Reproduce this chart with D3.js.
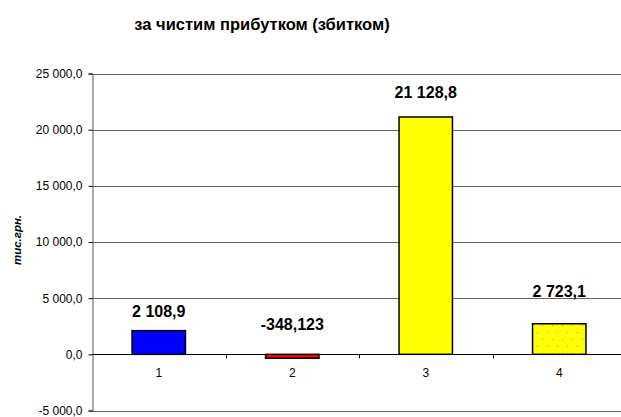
<!DOCTYPE html>
<html><head><meta charset="utf-8">
<script src="https://cdn.jsdelivr.net/npm/d3@7"></script>
<style>body{margin:0;background:#fff;} svg{display:block;font-family:"Liberation Sans",Arial,sans-serif;}</style>
</head><body>
<script>
const title = "за чистим прибутком (збитком)";
const yLabel = "тис.грн.";
const categories = ["1", "2", "3", "4"];
const values = [2108.9, -348.123, 21128.8, 2723.1];
const valueLabels = ["2 108,9", "-348,123", "21 128,8", "2 723,1"];
const yTicks = [-5000, 0, 5000, 10000, 15000, 20000, 25000];
const yTickLabels = ["-5 000,0", "0,0", "5 000,0", "10 000,0", "15 000,0", "20 000,0", "25 000,0"];
const colors = ["#0000FF", "#FF0000", "#FFFF00", "url(#dots)"];

const W = 621, H = 417;
const svg = d3.select("body").append("svg").attr("width", W).attr("height", H);

const defs = svg.append("defs");
const pat = defs.append("pattern").attr("id", "dots").attr("patternUnits", "userSpaceOnUse")
  .attr("width", 10).attr("height", 14);
pat.append("rect").attr("width", 10).attr("height", 14).attr("fill", "#FFFF00");
pat.append("rect").attr("x", 2).attr("y", 3).attr("width", 1).attr("height", 1).attr("fill", "#999");
pat.append("rect").attr("x", 7).attr("y", 10).attr("width", 1).attr("height", 1).attr("fill", "#999");

const left = 92, right = 626;
const x = d3.scaleBand().domain(categories).range([left, right]).paddingInner(0.6).paddingOuter(0.3);
const xb = d3.scaleBand().domain(categories).range([left, right]);
const y = d3.scaleLinear().domain([-5000, 25000]).range([410.5, 73.5]);

// title
svg.append("text").attr("x", 262).attr("y", 30).attr("text-anchor", "middle")
  .attr("font-size", 16.5).attr("font-weight", "bold").text(title);

// gridlines
svg.append("g").selectAll("line").data(yTicks).join("line")
  .attr("x1", left).attr("x2", W).attr("y1", d => Math.round(y(d)) + 0.5).attr("y2", d => Math.round(y(d)) + 0.5)
  .attr("stroke", d => d === 0 ? "#000" : "#666").attr("stroke-width", 1);

// y axis
const yAxis = d3.axisLeft(y).tickValues(yTicks).tickSize(4).tickPadding(6)
  .tickFormat((d, i) => yTickLabels[i]);
const gy = svg.append("g").attr("transform", `translate(${left + 0.5},0)`).call(yAxis);
gy.select(".domain").attr("stroke", "#555");
gy.selectAll(".tick line").attr("stroke", "#000");
gy.selectAll(".tick text").attr("font-size", 12).attr("font-family", "Liberation Sans, Arial, sans-serif").attr("fill", "#000");

// x ticks at category boundaries
const bounds = categories.slice(1).map(c => xb(c));
svg.append("g").selectAll("line").data(bounds).join("line")
  .attr("x1", d => Math.round(d) + 0.5).attr("x2", d => Math.round(d) + 0.5)
  .attr("y1", y(0)).attr("y2", y(0) + 4).attr("stroke", "#000");

// category labels
svg.append("g").selectAll("text").data(categories).join("text")
  .attr("x", d => xb(d) + xb.bandwidth() / 2).attr("y", y(0) + 23)
  .attr("text-anchor", "middle").attr("font-size", 12).text(d => d);

// bars
svg.append("g").selectAll("rect").data(values).join("rect")
  .attr("x", (d, i) => x(categories[i]))
  .attr("y", d => y(Math.max(0, d)))
  .attr("width", x.bandwidth())
  .attr("height", d => Math.abs(y(d) - y(0)))
  .attr("fill", (d, i) => colors[i]).attr("stroke", "#000").attr("stroke-width", 1.5);

// value labels
const labelDy = [14, 24, 19, 27];
svg.append("g").selectAll("text").data(values).join("text")
  .attr("x", (d, i) => xb(categories[i]) + xb.bandwidth() / 2)
  .attr("y", (d, i) => y(Math.max(0, d)) - labelDy[i])
  .attr("text-anchor", "middle").attr("font-size", 16).attr("font-weight", "bold")
  .text((d, i) => valueLabels[i]);

// y label
svg.append("text").attr("transform", "translate(21,240) rotate(-90)")
  .attr("text-anchor", "middle").attr("font-size", 11.5).attr("font-weight", "bold").attr("font-style", "italic")
  .text(yLabel);
</script>
</body></html>
